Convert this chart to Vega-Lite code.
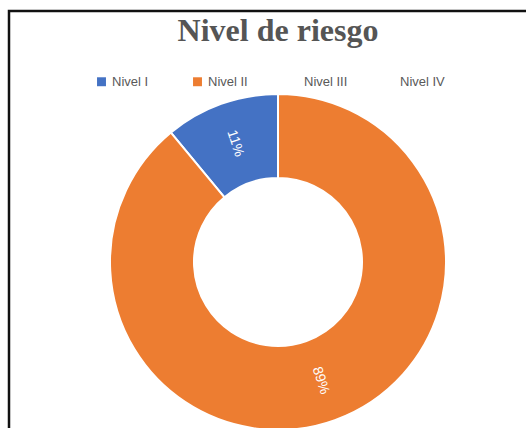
{
  "$schema": "https://vega.github.io/schema/vega-lite/v6.json",
  "autosize": "none",
  "width": 538,
  "height": 502,
  "padding": {"left": 9, "top": 11, "right": -21, "bottom": -85},
  "background": "white",
  "config": {"view": {"stroke": null}},
  "title": {
    "text": "Nivel de riesgo",
    "font": "Liberation Serif",
    "fontSize": 32,
    "fontWeight": "bold",
    "color": "#555555",
    "anchor": "middle",
    "offset": -38
  },
  "data": {
    "values": [
      {"Nivel": "Nivel I", "Valor": 0.11},
      {"Nivel": "Nivel II", "Valor": 0.89},
      {"Nivel": "Nivel III", "Valor": 0},
      {"Nivel": "Nivel IV", "Valor": 0}
    ]
  },
  "layer": [
    {
      "data": {"values": [{"marco": 1}]},
      "mark": {"type": "rect", "fill": null, "stroke": "#111111", "strokeWidth": 2.5},
      "encoding": {}
    },
    {
      "mark": {"type": "arc", "outerRadius": 168, "innerRadius": 84, "stroke": "white", "strokeWidth": 2},
      "encoding": {
        "theta": {"field": "Valor", "type": "quantitative", "stack": true},
        "order": {"field": "Nivel", "sort": "descending"},
        "color": {
          "field": "Nivel",
          "type": "nominal",
          "scale": {
            "domain": ["Nivel I", "Nivel II", "Nivel III", "Nivel IV"],
            "range": ["#4472C4", "#ED7D31", "#ffffff", "#ffffff"]
          },
          "legend": {
            "title": null,
            "orient": "none",
            "direction": "horizontal",
            "legendX": 86,
            "legendY": 64,
            "gridAlign": "all",
            "columnPadding": 34,
            "symbolType": "square",
            "symbolSize": 80,
            "symbolStrokeWidth": 0,
            "labelFont": "Liberation Sans",
            "labelFontSize": 13,
            "labelColor": "#595959"
          }
        }
      }
    },
    {
      "transform": [{"filter": "datum.Valor > 0"}],
      "mark": {"type": "text", "radius": 126, "angle": 72, "color": "white", "font": "Liberation Sans", "fontSize": 14},
      "encoding": {
        "theta": {"field": "Valor", "type": "quantitative", "stack": true},
        "order": {"field": "Nivel", "sort": "descending"},
        "text": {"field": "Valor", "type": "quantitative", "format": ".0%"}
      }
    }
  ]
}
